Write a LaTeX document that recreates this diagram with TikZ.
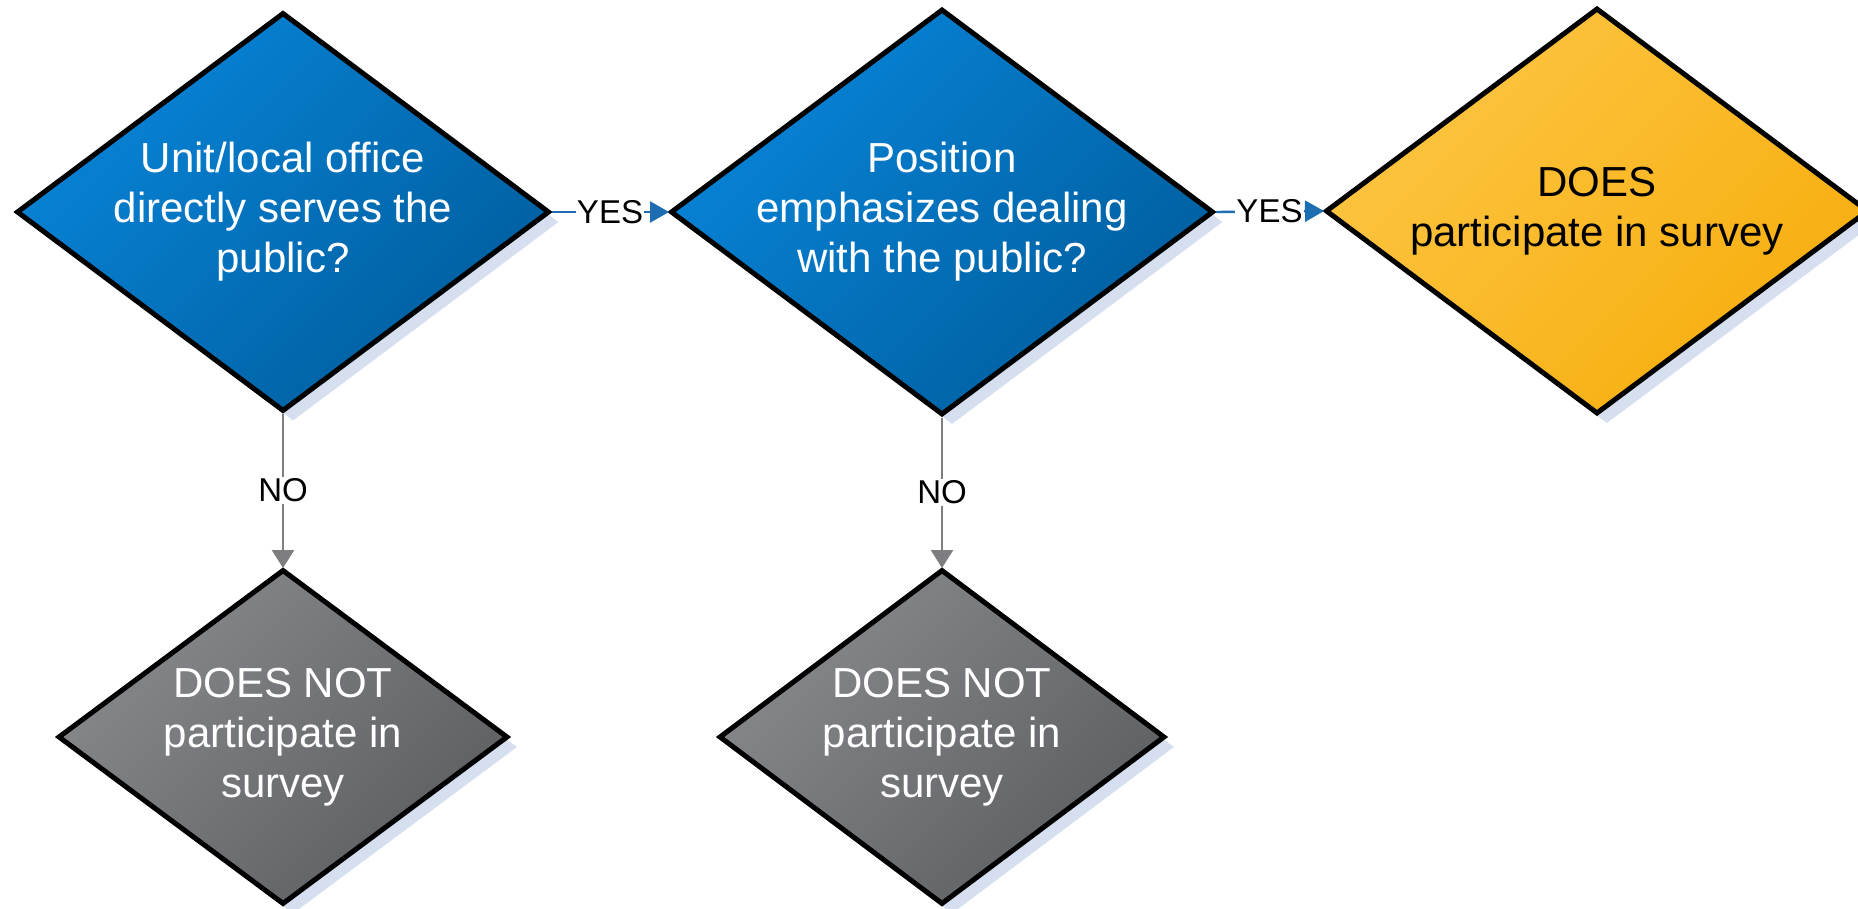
\documentclass[tikz,border=0pt]{standalone}
\usepackage{fontspec}
\setmainfont{Liberation Sans}
\usetikzlibrary{shapes.geometric,shadows,arrows.meta}
\definecolor{blueA}{HTML}{0884D8}
\definecolor{blueB}{HTML}{005E9E}
\definecolor{orangeA}{HTML}{FDC543}
\definecolor{orangeB}{HTML}{F7AE0E}
\definecolor{grayA}{HTML}{88898D}
\definecolor{grayB}{HTML}{5D5E62}
\definecolor{shadowc}{HTML}{D5DFEF}
\definecolor{linkblue}{HTML}{1C6DB2}
\definecolor{linkgray}{HTML}{7E7E80}
\begin{document}
\begin{tikzpicture}[x=1pt,y=-1pt,
  dia/.style={diamond, draw=black, line width=5pt, line join=miter, inner xsep=-100pt, inner ysep=-40pt,
    align=center, font=\fontsize{42}{50}\selectfont,
    drop shadow={shadow xshift=10pt, shadow yshift=-10pt, fill=shadowc, opacity=1, draw=none}},
  bluedia/.style={dia, text=white, top color=blueA, bottom color=blueB, shading angle=45},
  orangedia/.style={dia, text=black, top color=orangeA, bottom color=orangeB, shading angle=45},
  graydia/.style={dia, text=white, top color=grayA, bottom color=grayB, shading angle=45},
  lbl/.style={fill=white, inner xsep=1pt, inner ysep=2pt, text=black, font=\fontsize{33}{38}\selectfont},
  yesarrow/.style={draw=linkblue, line width=2.4pt, -{Triangle[length=19pt,width=21pt]}, shorten >=-1pt},
  noarrow/.style={draw=linkgray, line width=2.7pt, -{Triangle[length=18pt,width=22pt]}, shorten >=-1pt}
]
\useasboundingbox (0,0) rectangle (1858,909);

\node[bluedia, minimum width=533pt, minimum height=399pt] (d1) at (283,212)
  {Unit/local office\\directly serves the\\public?};
\node[bluedia, minimum width=543pt, minimum height=406pt] (d2) at (942,212)
  {Position\\emphasizes dealing\\with the public?};
\node[orangedia, minimum width=543pt, minimum height=406pt] (d3) at (1597,211)
  {DOES\\participate in survey};
\node[graydia, minimum width=450pt, minimum height=335pt] (d4) at (283,737)
  {DOES NOT\\participate in\\survey};
\node[graydia, minimum width=446pt, minimum height=335pt] (d5) at (942,737)
  {DOES NOT\\participate in\\survey};

\draw[yesarrow] (d1.east) -- node[lbl] {YES} (d2.west);
\draw[yesarrow] (d2.east) -- node[lbl] {YES} (d3.west);
\draw[noarrow] (d1.south) -- node[lbl] {NO} (d4.north);
\draw[noarrow] (d2.south) -- node[lbl] {NO} (d5.north);
\end{tikzpicture}
\end{document}
